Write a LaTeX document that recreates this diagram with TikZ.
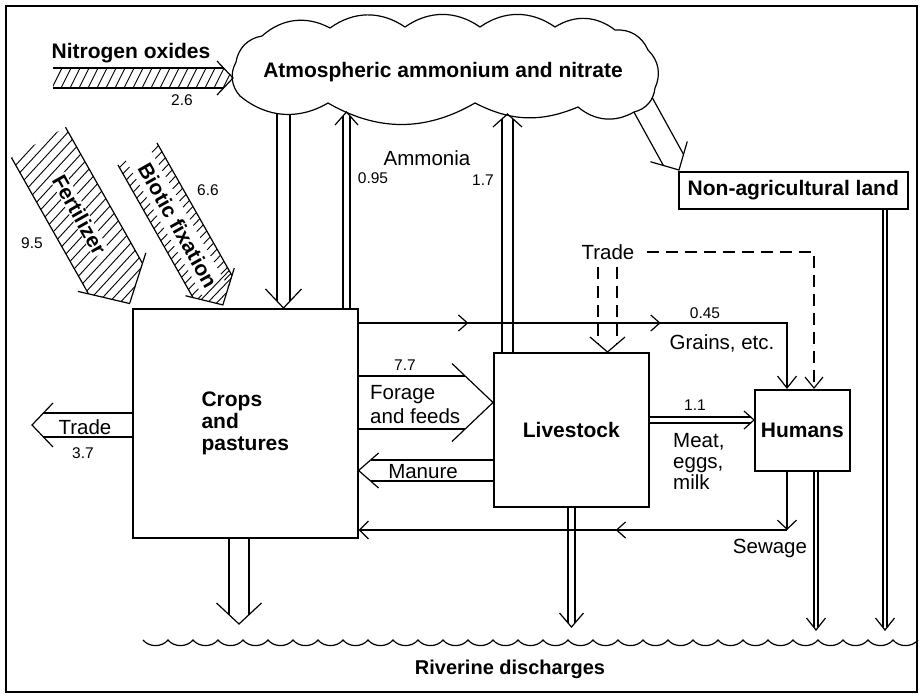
\documentclass[tikz,border=0pt]{standalone}
\usepackage{fontspec}
\setmainfont{Liberation Sans}
\usetikzlibrary{calc,arrows.meta,decorations.markings}

\tikzset{
  flow/.style={line width=1.2pt},
  hatchline/.style={line width=0.9pt},
  boxnode/.style={draw, line width=1.6pt, inner sep=0pt, anchor=north west,
    font=\bfseries\fontsize{21}{22}\selectfont},
  lbl/.style={inner sep=0pt, font=\fontsize{20.5}{23}\selectfont},
  num/.style={inner sep=0pt, font=\fontsize{15.5}{17}\selectfont},
  ttl/.style={inner sep=0pt, font=\bfseries\fontsize{21}{23}\selectfont},
  tradedash/.style={dash pattern=on 12pt off 7pt},
  grainmarks/.style={postaction={decorate}, decoration={markings,
    mark=at position 0.222 with {\arrow{Straight Barb[length=9pt,width=16pt,line width=1.2pt]}},
    mark=at position 0.611 with {\arrow{Straight Barb[length=9pt,width=16pt,line width=1.2pt]}}}},
  sewmark/.style={postaction={decorate}, decoration={markings,
    mark=at position 0.4 with {\arrow{Straight Barb[length=9pt,width=16pt,line width=1.2pt]}}}},
}

% double-line flow arrow with an open chevron head
% [shaft options]{start}{tip}{half gap}{head half width}{head length}
\newcommand\dblflow[6][]{%
  \pgfmathsetmacro\dfcut{#4*#6/#5}%
  \coordinate (dfA) at (#2);%
  \coordinate (dfT) at (#3);%
  \coordinate (dfE) at ($(dfT)!\dfcut pt!(dfA)$);%
  \coordinate (dfH) at ($(dfT)!#6pt!(dfA)$);%
  \draw[flow,#1] ($(dfA)!#4pt!90:(dfT)$) -- ($(dfE)!#4pt!90:(dfT)$);%
  \draw[flow,#1] ($(dfA)!#4pt!-90:(dfT)$) -- ($(dfE)!#4pt!-90:(dfT)$);%
  \draw[flow] ($(dfH)!#5pt!90:(dfT)$) -- (dfT) -- ($(dfH)!#5pt!-90:(dfT)$);%
}

\begin{document}
\begin{tikzpicture}[x=1pt,y=-1pt]
\useasboundingbox (0,0) rectangle (924,697);

% outer frame
\draw[line width=2.6pt] (6,6) rectangle (917,692);

% boxes
\node[boxnode, minimum width=225pt, minimum height=229pt, align=left]
  (crops) at (132,308) {Crops\\and\\pastures};
\node[boxnode, minimum width=155pt, minimum height=154pt] (livestock) at (493,352) {Livestock};
\node[boxnode, minimum width=95pt, minimum height=81pt] (humans) at (754,389) {Humans};
\node[boxnode, minimum width=229pt, minimum height=37pt] (nonag) at (678,171) {Non-agricultural land};

% points on the cloud outline
\coordinate (atmA) at (283.5,100);
\coordinate (atmB) at (346.5,112);
\coordinate (atmC) at (507.5,114);
\coordinate (atmD) at (636,92);

% deposition from the atmosphere (drawn under the cloud)
\coordinate (crA) at ($(crops.north west)+(151.5,0)$);
\dblflow{atmA}{crA}{6.5}{18}{19}
\coordinate (naT) at ($(nonag.north west)+(1,-1)$);
\dblflow{atmD}{naT}{11.5}{21}{21}

% cloud
\draw[flow, fill=white] (240,96) to[bend left=35] (236,62) to[bend left=35] (262,36)
  to[bend left=35] (330,28) to[bend left=35] (405,27) to[bend left=35] (480,27)
  to[bend left=35] (555,27) to[bend left=35] (615,30) to[bend left=35] (648,50)
  to[bend left=35] (655,88) to[bend left=35] (634,112) to[bend left=35] (578,107)
  to[bend left=25] (475,103) to[bend left=30] (328,103) to[bend left=35] (240,96) -- cycle;
\node[ttl] (atm) at (443,72) {Atmospheric ammonium and nitrate};

% ammonia volatilisation
\coordinate (crB) at ($(crops.north west)+(214.5,0)$);
\dblflow{crB}{atmB}{3.5}{11.5}{13}
\coordinate (lsA) at ($(livestock.north west)+(14.5,0)$);
\dblflow{lsA}{atmC}{5.5}{14.5}{13}
\node[lbl] (amm) at (427,158) {Ammonia};
\node[num] (n095) at (373,178) {0.95};
\node[num] (n17) at (483,180) {1.7};

% nitrogen oxides (hatched)
\begin{scope}[shift={(53,78)}]
  \begin{scope}
    \clip (0,-10) -- (170.6,-10) -- (180,0) -- (170.6,10) -- (0,10) -- cycle;
    \foreach \s in {-10,-1,...,190} \draw[hatchline] (\s,10) -- (\s+10,-10);
  \end{scope}
  \draw[flow] (0,-10) -- (170.6,-10) (0,10) -- (170.6,10);
  \draw[flow] (164,-17) -- (180,0) -- (164,17);
\end{scope}
\node[ttl] (noxT) at (131,53) {Nitrogen oxides};
\node[num] (noxN) at (182,100) {2.6};

% fertilizer (hatched)
\begin{scope}[shift={(38.5,142.5)}, rotate=-60.5]
  \begin{scope}
    \clip (0,-31) -- (156.4,-31) -- (185,0) -- (156.4,31) -- (0,31) -- cycle;
    \foreach \s in {0,8.5,...,215} \draw[hatchline] (\s,31) -- (\s-20,-31);
  \end{scope}
  \draw[flow] (0,-31) -- (156.4,-31) (0,31) -- (156.4,31);
  \draw[flow] (149,-39) -- (185,0) -- (149,39);
  \node[ttl, rotate=-60.5, fill=white, inner sep=0.8pt] (fert) at (83,0) {Fertilizer};
\end{scope}
\node[num] (ferN) at (32,243) {9.5};

% biotic fixation (hatched)
\begin{scope}[shift={(137.5,154)}, rotate=-60.5]
  \begin{scope}
    \clip (0,-22.4) -- (152.3,-22.4) -- (173.4,0) -- (152.3,22.4) -- (0,22.4) -- cycle;
    \foreach \s in {3,10,...,160} {
      \draw[hatchline] (\s,22.4) -- (\s-2.7,13.4);
      \draw[hatchline] (\s,-22.4) -- (\s+2.7,-13.4);
    }
    \foreach \s in {160,167,...,190} \draw[hatchline] (\s,22.4) -- (\s-13.4,-22.4);
  \end{scope}
  \draw[flow] (0,-22.4) -- (152.3,-22.4) (0,22.4) -- (152.3,22.4);
  \draw[flow] (147,-28) -- (173.4,0) -- (147,28);
  \node[ttl, rotate=-60.5] (bio) at (82,0) {Biotic fixation};
\end{scope}
\node[num] (bioN) at (208,190) {6.6};

% export trade from crops
\coordinate (crT) at ($(crops.north west)+(0,117)$);
\coordinate (trdTip) at (32,425);
\dblflow{crT}{trdTip}{12}{22}{21}
\node[lbl] (tradeL) at (85,427) {Trade};
\node[num] (n37) at (83,453) {3.7};

% forage and feeds
\coordinate (fgA) at ($(crops.north east)+(0,94.5)$);
\coordinate (fgB) at ($(livestock.north west)+(0,50.5)$);
\dblflow{fgA}{fgB}{26.5}{39}{41}
\node[num] (n77) at (405,365) {7.7};
\node[lbl, align=left, anchor=west, font=\fontsize{20.5}{24}\selectfont] (forage) at (370,405) {Forage\\and feeds};

% manure
\coordinate (mnA) at ($(livestock.north west)+(0,118.5)$);
\coordinate (mnB) at ($(crops.north east)+(0,162.5)$);
\dblflow{mnA}{mnB}{10.5}{17.5}{20}
\node[lbl] (manure) at (423,472) {Manure};

% meat, eggs, milk
\coordinate (mtA) at ($(livestock.north east)+(0,68)$);
\coordinate (mtB) at ($(humans.north west)+(0,31)$);
\dblflow{mtA}{mtB}{3}{9}{10}
\node[num] (n11) at (695,405) {1.1};
\node[lbl, align=left, anchor=west, font=\fontsize{20.5}{21}\selectfont] (meat) at (673,461) {Meat,\\eggs,\\milk};

% grains
\coordinate (grA) at ($(crops.north east)+(0,15)$);
\coordinate (grB) at ($(humans.north west)+(33,0)$);
\draw[flow, line width=1.9pt, -{Straight Barb[length=12pt,width=19pt,line width=1.2pt]}, grainmarks] (grA) -| (grB);
\node[num] (n045) at (705,313) {0.45};
\node[lbl] (grains) at (722,343) {Grains, etc.};

% imported trade (dashed)
\node[lbl] (tradeT) at (608,252) {Trade};
\coordinate (trdA) at (607.5,267);
\coordinate (trdB) at ($(livestock.north west)+(114.5,0)$);
\dblflow[tradedash]{trdA}{trdB}{9.5}{17.5}{15}
\coordinate (trdH) at ($(humans.north west)+(60,0)$);
\draw[flow, tradedash, -{Straight Barb[length=11pt,width=18pt]}] ($(tradeT.east)+(12,0)$) -| (trdH);

% sewage
\coordinate (hmS) at ($(humans.south west)+(33,0)$);
\coordinate (sewC) at (787,530);
\draw[flow, -{Straight Barb[length=9pt,width=19pt]}] (hmS) -- (sewC);
\draw[flow, -{Straight Barb[length=9pt,width=18pt]}, sewmark] (sewC) -- (sewC -| crops.east);
\node[lbl] (sewage) at (770,548) {Sewage};

% riverine discharges
\coordinate (rs1) at ($(crops.south west)+(107,0)$);
\coordinate (rs2) at ($(livestock.south west)+(78.5,0)$);
\coordinate (rs3) at ($(humans.south west)+(62,0)$);
\coordinate (rs4) at ($(nonag.south west)+(207,0)$);
\coordinate (rv1) at (239,624);
\coordinate (rv2) at (571.5,627);
\coordinate (rv3) at (816,630);
\coordinate (rv4) at (885,630);
\dblflow{rs1}{rv1}{10}{22.5}{21}
\dblflow{rs2}{rv2}{3.5}{12}{14}
\dblflow{rs3}{rv3}{2}{9.5}{12}
\dblflow{rs4}{rv4}{2}{9.5}{12}

\draw[flow] (143,640) \foreach \i in {1,...,31} { to[bend right=50] ++(25,0) };
\node[ttl, font=\bfseries\fontsize{20}{22}\selectfont] (river) at (510,669) {Riverine discharges};

\end{tikzpicture}
\end{document}
